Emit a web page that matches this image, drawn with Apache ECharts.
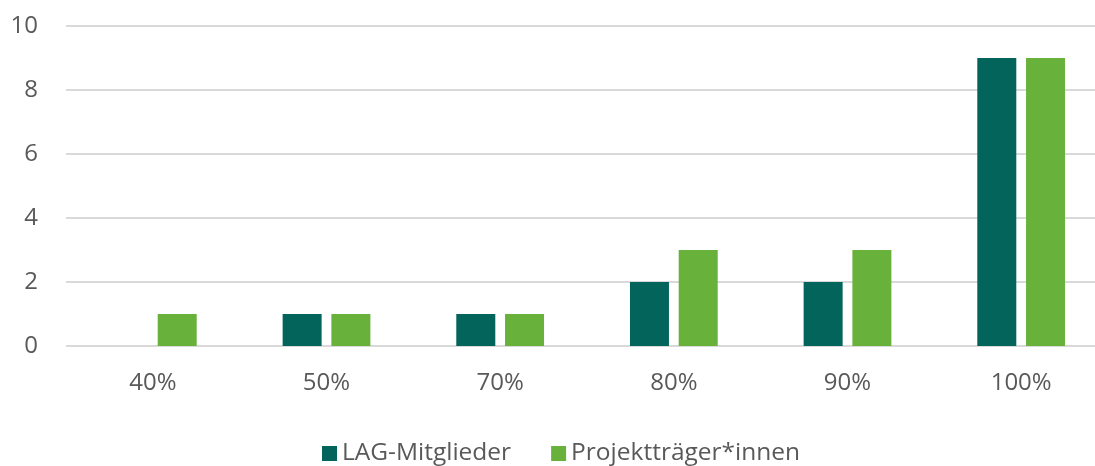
<!DOCTYPE html>
<html>
<head>
<meta charset="utf-8">
<script src="https://cdn.jsdelivr.net/npm/echarts@6/dist/echarts.min.js"></script>
<style>
  html, body { margin: 0; padding: 0; background: #fff; }
  #chart { width: 1095px; height: 466px; }
</style>
</head>
<body>
<div id="chart"></div>
<script>
const categories = ["40%", "50%", "70%", "80%", "90%", "100%"];
const lagMitglieder = [0, 1, 1, 2, 2, 9];
const projekttraeger = [1, 1, 1, 3, 3, 9];
const yTicks = [0, 2, 4, 6, 8, 10];

const chart = echarts.init(document.getElementById("chart"));

const font = "'Open Sans', sans-serif";

chart.setOption({
  animation: false,
  textStyle: { fontFamily: font },
  // plot runs past the right edge in the original, so fix the width and don't clamp it
  grid: { left: 66, width: 1042, top: 26, bottom: 120, outerBoundsMode: "none", containLabel: false },
  legend: {
    left: 317,
    top: 436,
    itemWidth: 15,
    itemHeight: 15,
    itemGap: 40,
    icon: "rect",
    textStyle: { fontSize: 24.5, color: "#595959", fontFamily: font },
    data: ["LAG-Mitglieder", "Projektträger*innen"]
  },
  xAxis: {
    type: "category",
    data: categories,
    axisLine: { show: false },
    axisTick: { show: false },
    axisLabel: { fontSize: 24, color: "#595959", margin: 25, fontFamily: font }
  },
  yAxis: {
    type: "value",
    min: yTicks[0],
    max: yTicks[yTicks.length - 1],
    interval: 2,
    axisLine: { show: false },
    axisTick: { show: false },
    axisLabel: { fontSize: 24, color: "#595959", margin: 28, fontFamily: font },
    splitLine: { lineStyle: { color: "#d9d9d9", width: 2 } }
  },
  series: [
    {
      name: "LAG-Mitglieder",
      type: "bar",
      data: lagMitglieder,
      barWidth: 39,
      barGap: "25%",
      itemStyle: { color: "#02645a" }
    },
    {
      name: "Projektträger*innen",
      type: "bar",
      data: projekttraeger,
      barWidth: 39,
      barGap: "25%",
      itemStyle: { color: "#68b23c" }
    }
  ]
});
</script>
</body>
</html>
